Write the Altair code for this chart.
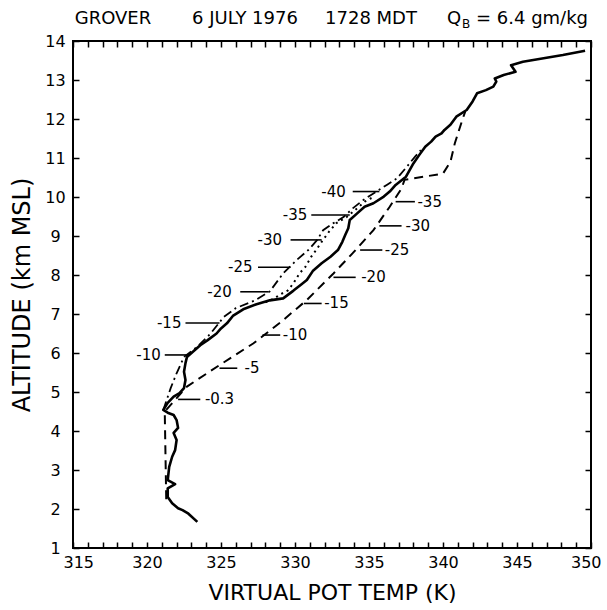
import altair as alt
import pandas as pd

# ---- environmental virtual potential temperature sounding (solid) ----
env_t = [323.4, 322.8, 322.4, 322.1, 321.7, 321.4, 321.4, 321.9, 321.4, 321.5,
         321.7, 321.9, 322.0, 321.8, 322.1, 322.0, 321.8, 321.4, 321.1, 321.4,
         321.8, 322.2, 322.5, 322.6, 322.5, 322.6, 322.7, 323.1, 323.6, 324.1,
         324.7, 325.0, 325.4, 325.8, 326.5, 327.4, 328.3, 329.2, 329.9, 330.4,
         330.8, 331.2, 331.8, 332.4, 332.9, 333.2, 333.4, 333.6, 333.7, 334.2,
         334.7, 335.3, 336.0, 336.4, 336.8, 337.5, 338.0, 338.4, 338.8, 339.2,
         339.5, 339.9, 340.1, 340.5, 340.9, 341.6, 342.0, 342.3, 342.9, 343.4,
         343.6, 343.5, 344.1, 344.9, 344.6, 345.4, 346.8, 348.1, 349.6]
env_z = [1.67, 1.88, 1.97, 2.02, 2.15, 2.31, 2.53, 2.64, 2.74, 3.08,
         3.34, 3.51, 3.77, 3.95, 4.08, 4.28, 4.41, 4.47, 4.54, 4.72,
         4.88, 4.97, 5.10, 5.31, 5.52, 5.74, 5.90, 6.03, 6.20, 6.33,
         6.50, 6.63, 6.76, 6.95, 7.12, 7.25, 7.35, 7.40, 7.60, 7.75,
         7.87, 8.10, 8.30, 8.47, 8.64, 8.85, 9.03, 9.20, 9.41, 9.58,
         9.75, 9.84, 10.01, 10.14, 10.31, 10.52, 10.86, 11.08, 11.29, 11.42,
         11.55, 11.63, 11.72, 11.85, 12.06, 12.23, 12.45, 12.66, 12.74, 12.83,
         12.96, 13.04, 13.13, 13.21, 13.38, 13.47, 13.56, 13.64, 13.75]

# ---- moist adiabat from cloud base (dashed) ----
adiab_t = [321.3, 321.2, 322.7, 324.9, 327.2, 329.0, 330.8, 332.6, 333.9, 335.3,
           336.4, 337.2, 337.4, 340.0, 340.5, 340.8, 341.3, 341.5]
adiab_z = [2.25, 4.50, 5.14, 5.69, 6.25, 6.78, 7.36, 8.04, 8.56, 9.15,
           9.75, 10.22, 10.44, 10.60, 10.90, 11.38, 11.97, 12.19]

# ---- cloud parcel (dash-dot) ----
parcel_t = [321.1, 321.6, 322.0, 322.5, 323.4, 324.3, 325.2, 326.0, 327.3, 328.3,
            329.2, 330.1, 330.9, 331.5, 331.9, 332.6, 333.3, 333.9, 334.6, 335.3,
            336.2, 336.9, 337.5, 338.1, 338.5]
parcel_z = [4.54, 5.10, 5.48, 5.90, 6.16, 6.50, 6.93, 7.15, 7.35, 7.58,
            8.04, 8.38, 8.64, 8.90, 9.15, 9.33, 9.49, 9.71, 9.92, 10.09,
            10.31, 10.48, 10.75, 11.03, 11.20]

# ---- dotted profile ----
dot_t = [328.0, 328.6, 329.0, 329.5, 329.9, 330.3, 330.7, 331.1, 331.5, 331.8,
         332.3, 332.8, 333.5, 334.2, 334.7, 335.3]
dot_z = [7.30, 7.40, 7.50, 7.60, 7.79, 8.04, 8.21, 8.47, 8.68, 8.85,
         9.11, 9.33, 9.49, 9.71, 9.88, 10.00]

# ---- temperature annotations (deg C) with leader lines ----
ann_text = ["-40", "-35", "-30", "-25", "-20", "-15", "-10",
            "-35", "-30", "-25", "-20", "-15", "-10", "-5", "-0.3"]
ann_t = [332.6, 330.0, 328.3, 326.3, 324.9, 321.5, 320.1,
         339.1, 338.3, 336.9, 335.3, 332.8, 330.0, 327.1, 324.9]
ann_z = [10.14, 9.54, 8.90, 8.20, 7.57, 6.77, 5.95,
         9.88, 9.26, 8.64, 7.94, 7.27, 6.46, 5.61, 4.81]
lead_t1 = [333.9, 331.1, 329.7, 327.5, 326.3, 322.6, 321.2,
           336.8, 335.7, 334.4, 332.6, 330.6, 327.8, 324.9, 322.1]
lead_t2 = [335.7, 333.7, 331.8, 329.7, 328.2, 324.9, 322.9,
           338.1, 337.2, 335.9, 334.1, 331.8, 329.0, 326.1, 323.6]

x_ticks = list(range(315, 351))
y_ticks = list(range(1, 15))

title_parts = ["GROVER", "6 JULY 1976", "1728 MDT", "Q", "B", "= 6.4 gm/kg"]

FONT = "DejaVu Sans"


def prof(t, z):
    return pd.DataFrame({"t": t, "z": z, "i": list(range(len(t)))})


def xs():
    return alt.Scale(domain=[315, 350], nice=False, zero=False)


def ys():
    return alt.Scale(domain=[1, 14], nice=False, zero=False)


inward = {"expr": "-6"}

ax_bottom = alt.Axis(orient="bottom", values=x_ticks, domain=False,
                     labelExpr="datum.value % 5 === 0 ? datum.label : ''",
                     tickSize=inward, tickColor="black", tickWidth=1.5,
                     labelFont=FONT, labelFontSize=16, labelColor="black",
                     labelPadding=12, labelOverlap=False, labelFlush=True,
                     labelFlushOffset=10,
                     title="VIRTUAL POT TEMP (K)", titleFont=FONT,
                     titleFontSize=22, titleFontWeight="normal",
                     titleColor="black", titlePadding=12, grid=False)
ax_left = alt.Axis(orient="left", values=y_ticks, domain=False,
                   tickSize=inward, tickColor="black", tickWidth=1.5,
                   labelFont=FONT, labelFontSize=16, labelColor="black",
                   labelAlign="center",
                   labelPadding=24, labelOverlap=False, labelFlush=False,
                   title="ALTITUDE (km MSL)", titleFont=FONT,
                   titleFontSize=24, titleFontWeight="normal",
                   titleColor="black", titlePadding=10, grid=False)
ax_top = alt.Axis(orient="top", values=x_ticks, domain=False, labels=False,
                  tickSize=inward, tickColor="black", tickWidth=1.5,
                  title=None, grid=False)
ax_right = alt.Axis(orient="right", values=y_ticks, domain=False, labels=False,
                    tickSize=inward, tickColor="black", tickWidth=1.5,
                    title=None, grid=False)

solid = alt.Chart(prof(env_t, env_z)).mark_line(
    color="black", strokeWidth=2.6, strokeJoin="round").encode(
    x=alt.X("t:Q", scale=xs(), axis=ax_bottom),
    y=alt.Y("z:Q", scale=ys(), axis=ax_left),
    order="i:Q")

dashed = alt.Chart(prof(adiab_t, adiab_z)).mark_line(
    color="black", strokeWidth=2.0, strokeDash=[9, 6]).encode(
    x=alt.X("t:Q", scale=xs(), axis=ax_top),
    y=alt.Y("z:Q", scale=ys(), axis=ax_right),
    order="i:Q")

dashdot = alt.Chart(prof(parcel_t, parcel_z)).mark_line(
    color="black", strokeWidth=1.8, strokeDash=[9, 4, 2, 4]).encode(
    x=alt.X("t:Q", scale=xs(), axis=None),
    y=alt.Y("z:Q", scale=ys(), axis=None),
    order="i:Q")

dotted = alt.Chart(prof(dot_t, dot_z)).mark_line(
    color="black", strokeWidth=2.0, strokeDash=[2, 4]).encode(
    x=alt.X("t:Q", scale=xs(), axis=None),
    y=alt.Y("z:Q", scale=ys(), axis=None),
    order="i:Q")

ann_df = pd.DataFrame({"label": ann_text, "t": ann_t, "z": ann_z,
                       "t1": lead_t1, "t2": lead_t2})

leaders = alt.Chart(ann_df).mark_rule(color="black", strokeWidth=1.6).encode(
    x=alt.X("t1:Q", scale=xs(), axis=None),
    x2="t2:Q",
    y=alt.Y("z:Q", scale=ys(), axis=None))

labels = alt.Chart(ann_df).mark_text(
    font=FONT, fontSize=15, color="black", align="center",
    baseline="middle").encode(
    x=alt.X("t:Q", scale=xs(), axis=None),
    y=alt.Y("z:Q", scale=ys(), axis=None),
    text="label:N")


def title_piece(txt, px, py, size=18, align="center"):
    return alt.Chart(pd.DataFrame({"s": [txt]})).mark_text(
        font=FONT, fontSize=size, color="black", align=align,
        baseline="alphabetic").encode(
        x=alt.value(px), y=alt.value(py), text="s:N")


title_layers = [
    title_piece(title_parts[0], 40, -17),
    title_piece(title_parts[1], 172, -17),
    title_piece(title_parts[2], 298, -17),
    title_piece(title_parts[3], 381, -17),
    title_piece(title_parts[4], 389, -13, size=12, align="left"),
    title_piece(title_parts[5], 459, -17),
]

chart = alt.layer(solid, dashed, dashdot, dotted, leaders, labels,
                  *title_layers).resolve_scale(
    x="independent", y="independent"
).resolve_axis(
    x="independent", y="independent"
).properties(
    width=518, height=507,
    autosize=alt.AutoSizeParams(type="none"),
    padding={"left": 73, "top": 41, "right": 16, "bottom": 62},
    background="white",
).configure_view(stroke="black", strokeWidth=2)

chart.save("out.html", embed_options={"renderer": "svg", "actions": False})
